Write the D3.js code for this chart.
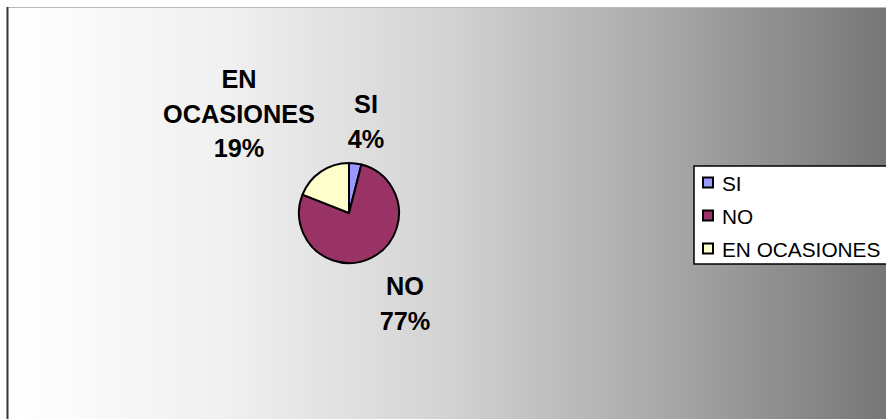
<!DOCTYPE html>
<html>
<head>
<meta charset="utf-8">
<script src="https://cdn.jsdelivr.net/npm/d3@7"></script>
<style>
  body { margin: 0; background: #fff; }
  svg { display: block; }
</style>
</head>
<body>
<svg id="chart" width="886" height="419"></svg>
<script>
// datos
const categorias = ["SI", "NO", "EN OCASIONES"];
const valores = [4, 77, 19];
const colores = ["#9999ff", "#993366", "#ffffcc"];
// etiquetas: líneas y posición de cada una
const etiquetas = [
  { lineas: ["SI", "4%"], x: 366, y: 113 },
  { lineas: ["NO", "77%"], x: 405, y: 295 },
  { lineas: ["EN", "OCASIONES", "19%"], x: 239, y: 88 }
];

const svg = d3.select("#chart");
const W = 886, H = 419;

/* fondo degradado */
const defs = svg.append("defs");
const grad = defs.append("linearGradient").attr("id", "fondo")
  .attr("x1", "0%").attr("x2", "100%").attr("y1", "0%").attr("y2", "0%");
[[0, "#ffffff"], [0.25, "#f0f0f0"], [0.5, "#d3d3d3"], [0.75, "#a8a8a8"], [1, "#767676"]]
  .forEach(([o, c]) => grad.append("stop").attr("offset", o).attr("stop-color", c));

svg.append("rect").attr("x", 7).attr("y", 7).attr("width", W - 7).attr("height", H - 7)
  .attr("fill", "url(#fondo)");
// bordes del área
svg.append("line").attr("x1", 7).attr("x2", W).attr("y1", 7.5).attr("y2", 7.5)
  .attr("stroke", "#b8b8b8").attr("stroke-width", 1);
svg.append("line").attr("x1", 7.5).attr("x2", 7.5).attr("y1", 7).attr("y2", H)
  .attr("stroke", "#333").attr("stroke-width", 2);

/* torta */
const cx = 349, cy = 213, r = 50;
const pie = d3.pie().sort(null).value(d => d)(valores);
const arc = d3.arc().innerRadius(0).outerRadius(r);

svg.append("g").attr("transform", `translate(${cx},${cy})`)
  .selectAll("path")
  .data(pie)
  .join("path")
  .attr("d", arc)
  .attr("fill", (d, i) => colores[i])
  .attr("stroke", "#000")
  .attr("stroke-width", 2)
  .attr("stroke-linejoin", "round");

/* etiquetas */
etiquetas.forEach(e => {
  const t = svg.append("text")
    .attr("text-anchor", "middle")
    .attr("font-family", "'Liberation Sans', Arial, sans-serif")
    .attr("font-weight", "bold")
    .attr("font-size", 25.3)
    .attr("fill", "#000");
  e.lineas.forEach((l, i) => {
    t.append("tspan").attr("x", e.x).attr("y", e.y + i * 34.5).text(l);
  });
});

/* leyenda */
const leyenda = svg.append("g");
leyenda.append("rect").attr("x", 694).attr("y", 166).attr("width", 200).attr("height", 98)
  .attr("fill", "#fff").attr("stroke", "#000").attr("stroke-width", 1.5);

const filas = leyenda.selectAll("g.item")
  .data(categorias)
  .join("g")
  .attr("class", "item")
  .attr("transform", (d, i) => `translate(0,${182.5 + i * 33})`);
filas.append("rect")
  .attr("x", 703).attr("y", -5).attr("width", 10).attr("height", 10)
  .attr("fill", (d, i) => colores[i])
  .attr("stroke", "#000").attr("stroke-width", 2);
filas.append("text")
  .attr("x", 722).attr("y", 8)
  .attr("font-family", "'Liberation Sans', Arial, sans-serif")
  .attr("font-size", 20.8)
  .attr("fill", "#000")
  .text(d => d);
</script>
</body>
</html>
